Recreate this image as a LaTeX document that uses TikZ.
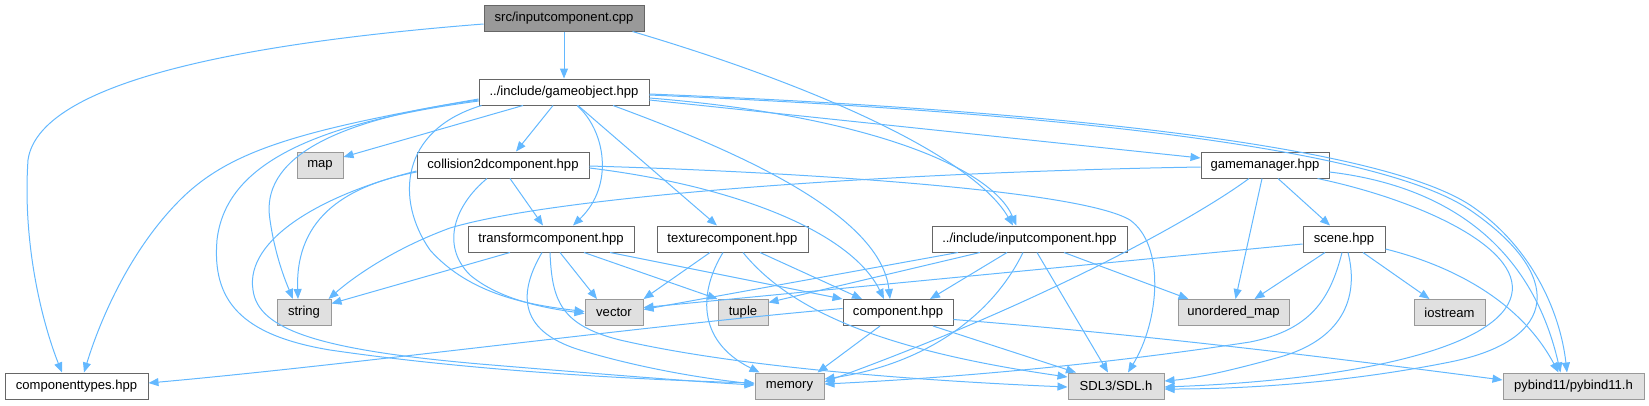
\documentclass[tikz,border=0pt]{standalone}
\usepackage{fontspec}
\setmainfont{Liberation Sans}
\usetikzlibrary{arrows.meta,calc}
\definecolor{cEdge}{HTML}{63B8FF}
\definecolor{cDark}{HTML}{666666}
\definecolor{cMid}{HTML}{999999}
\definecolor{cSys}{HTML}{E0E0E0}
\tikzset{
  base/.style={draw=cDark, line width=0.75pt, inner sep=0pt, minimum height=19.5pt,
    font=\fontsize{9.8}{11}\selectfont},
  usr/.style={base, fill=white},
  sys/.style={base, draw=cMid, fill=cSys},
  root/.style={base, fill=cMid},
  edge/.style={draw=cEdge, line width=0.75pt, -{Triangle[length=7.5pt,width=6pt]}}
}
\begin{document}
\begin{tikzpicture}[x=0.75pt,y=-0.75pt]
\useasboundingbox (0,0) rectangle (1649,405);
% nodes
\node[root, minimum width=120pt] (C) at (564,18) {src/inputcomponent.cpp};
\node[usr, minimum width=127.5pt] (G) at (564,92) {../include/gameobject.hpp};
\node[sys, minimum width=34.5pt] (MAP) at (320,165) {map};
\node[usr, minimum width=129pt] (COL) at (503,165) {collision2dcomponent.hpp};
\node[usr, minimum width=96pt] (GM) at (1265,165) {gamemanager.hpp};
\node[usr, minimum width=124.5pt] (TR) at (551,239) {transformcomponent.hpp};
\node[usr, minimum width=113.25pt] (TX) at (732.5,239) {texturecomponent.hpp};
\node[usr, minimum width=146.25pt] (IC) at (1029.5,239) {../include/inputcomponent.hpp};
\node[usr, minimum width=61.5pt] (SC) at (1344,239) {scene.hpp};
\node[sys, minimum width=40.5pt] (ST) at (304,312.5) {string};
\node[sys, minimum width=43.5pt] (VE) at (614,312.5) {vector};
\node[sys, minimum width=37.5pt] (TU) at (743,312.5) {tuple};
\node[usr, minimum width=82.5pt] (CO) at (898,312.5) {component.hpp};
\node[sys, minimum width=83.25pt] (UM) at (1233.5,312.5) {unordered\_map};
\node[sys, minimum width=53.25pt] (IO) at (1449.5,312.5) {iostream};
\node[usr, minimum width=107.25pt] (CT) at (76.5,386) {componenttypes.hpp};
\node[sys, minimum width=51.75pt] (ME) at (789.5,386) {memory};
\node[sys, minimum width=72pt] (SDL) at (1116,386) {SDL3/SDL.h};
\node[sys, minimum width=105.75pt] (PY) at (1573.5,386) {pybind11/pybind11.h};
% edges from cpp
\draw[edge] (C) -- (G);
\draw[edge] ($(C.west)+(0,6)$) .. controls (280,40) and (40,75) .. (28,160) .. controls (22,250) and (45,330) .. ($(CT.north)+(-14.5,0)$);
\draw[edge] ($(C.south east)+(-12,0)$) .. controls (830,90) and (975,160) .. ($(IC.north)+(-16.5,0)$);
% gameobject
\draw[edge] ($(G.south)+(-41,0)$) -- ($(MAP.east)+(0,-8)$);
\draw[edge] ($(G.south)+(-11,0)$) -- ($(COL.north)+(13,0)$);
\draw[edge] ($(G.south)+(13,0)$) .. controls (605,130) and (615,185) .. ($(TR.north)+(22,0)$);
\draw[edge] ($(G.south)+(14,0)$) -- ($(TX.north)+(-15.5,0)$);
\draw[edge] ($(G.south)+(49,0)$) .. controls (720,145) and (880,210) .. ($(CO.north)+(-8,0)$);
\draw[edge] ($(G.east)+(0,8)$) -- ($(GM.west)+(0,-7)$);
\draw[edge] ($(G.east)+(0,6)$) .. controls (860,115) and (990,165) .. ($(IC.north)+(-13,0)$);
\draw[edge] ($(G.east)+(0,2)$) .. controls (1000,108) and (1370,140) .. (1470,205) .. controls (1530,245) and (1560,310) .. ($(PY.north)+(-6.5,0)$);
\draw[edge] ($(G.east)+(0,3)$) .. controls (1000,110) and (1370,142) .. (1470,210) .. controls (1565,275) and (1560,340) .. (1450,362) .. controls (1350,382) and (1250,389) .. ($(SDL.east)+(0,3)$);
\draw[edge] ($(G.west)+(0,9)$) .. controls (300,125) and (225,170) .. (217,240) .. controls (212,300) and (240,335) .. (330,350) .. controls (480,372) and (650,380) .. ($(ME.west)+(0,-3)$);
\draw[edge] ($(G.west)+(0,8)$) .. controls (330,120) and (260,160) .. (270,220) .. controls (275,255) and (285,280) .. ($(ST.north)+(-11,0)$);
\draw[edge] ($(G.south west)+(3,0)$) .. controls (400,130) and (395,200) .. (430,250) .. controls (470,295) and (530,305) .. ($(VE.west)+(0,-1)$);
\draw[edge] ($(G.west)+(0,7)$) .. controls (300,130) and (230,150) .. (180,200) .. controls (130,250) and (100,320) .. ($(CT.north)+(7.5,0)$);
% collision2d
\draw[edge] ($(COL.south)+(7,0)$) -- ($(TR.north)+(-8,0)$);
\draw[edge] ($(COL.west)+(0,7)$) .. controls (350,185) and (295,215) .. ($(ST.north)+(-6,0)$);
\draw[edge] ($(COL.west)+(0,6)$) .. controls (320,195) and (245,240) .. (253,290) .. controls (258,330) and (320,350) .. (480,364) .. controls (600,374) and (700,382) .. ($(ME.west)+(0,-1)$);
\draw[edge] ($(COL.south)+(-16,0)$) .. controls (455,205) and (440,245) .. (470,275) .. controls (500,300) and (545,308) .. ($(VE.west)+(0,1)$);
\draw[edge] ($(COL.east)+(0,3)$) .. controls (730,185) and (850,230) .. ($(CO.north)+(-14,0)$);
\draw[edge] ($(COL.east)+(0,1)$) .. controls (800,172) and (1080,190) .. (1130,220) .. controls (1165,245) and (1160,320) .. ($(SDL.north)+(12,0)$);
% transformcomponent
\draw[edge] ($(TR.south)+(-41,0)$) -- ($(ST.east)+(0,-9)$);
\draw[edge] ($(TR.south)+(9,0)$) -- ($(VE.north)+(-17,0)$);
\draw[edge] ($(TR.south)+(33,0)$) -- (TU.north west);
\draw[edge] ($(TR.south)+(59,0)$) -- (CO.north west);
\draw[edge] ($(TR.south)+(-9,0)$) .. controls (520,290) and (515,330) .. (580,350) .. controls (640,368) and (700,378) .. ($(ME.west)+(0,-2)$);
\draw[edge] ($(TR.south)+(-1,0)$) .. controls (552,300) and (560,325) .. (620,340) .. controls (750,370) and (950,382) .. ($(SDL.west)+(0,1)$);
% texturecomponent
\draw[edge] ($(TX.south)+(-22.5,0)$) -- (VE.north east);
\draw[edge] ($(TX.south)+(27.5,0)$) -- ($(CO.north)+(-36,0)$);
\draw[edge] ($(TX.south)+(-9.5,0)$) .. controls (700,290) and (695,340) .. ($(ME.north)+(-30,0)$);
\draw[edge] ($(TX.south)+(10.5,0)$) .. controls (790,310) and (880,350) .. ($(SDL.west)+(0,-9)$);
% component
\draw[edge] ($(CO.west)+(0,-4)$) .. controls (650,325) and (350,365) .. ($(CT.east)+(0,-3)$);
\draw[edge] ($(CO.south)+(-18,0)$) -- ($(ME.north)+(28,0)$);
\draw[edge] ($(CO.south)+(35,0)$) -- ($(SDL.north)+(-40,0)$);
\draw[edge] ($(CO.east)+(0,7)$) .. controls (1150,335) and (1350,360) .. ($(PY.west)+(0,-6)$);
% inputcomponent
\draw[edge] ($(IC.south)+(-71.5,0)$) -- ($(VE.east)+(0,-3)$);
\draw[edge] ($(IC.south)+(-49.5,0)$) -- ($(TU.east)+(0,-10)$);
\draw[edge] ($(IC.south)+(-22.5,0)$) -- ($(CO.north)+(32,0)$);
\draw[edge] ($(IC.south)+(-6.5,0)$) .. controls (990,320) and (920,365) .. ($(ME.east)+(0,-7)$);
\draw[edge] ($(IC.south)+(7.5,0)$) -- ($(SDL.north)+(-8,0)$);
\draw[edge] ($(IC.south)+(34.5,0)$) -- ($(UM.north)+(-45,0)$);
% gamemanager
\draw[edge] ($(GM.west)+(0,2)$) .. controls (900,172) and (560,195) .. (450,228) .. controls (390,250) and (350,280) .. ($(ST.north east)+(-3,0)$);
\draw[edge] ($(GM.south)+(-16,0)$) .. controls (1200,215) and (1050,300) .. ($(ME.east)+(0,-4)$);
\draw[edge] ($(GM.south)+(-3,0)$) -- ($(UM.north)+(2,0)$);
\draw[edge] ($(GM.south)+(13,0)$) -- ($(SC.north)+(-14,0)$);
\draw[edge] ($(GM.south east)+(-12,0)$) .. controls (1420,200) and (1530,250) .. (1510,300) .. controls (1490,350) and (1350,380) .. ($(SDL.east)+(0,1)$);
\draw[edge] ($(GM.east)+(0,7)$) .. controls (1440,185) and (1530,240) .. ($(PY.north)+(-13,0)$);
% scene
\draw[edge] ($(SC.west)+(0,5)$) -- ($(VE.east)+(0,-5)$);
\draw[edge] ($(SC.south)+(-19,0)$) -- ($(UM.north)+(21,0)$);
\draw[edge] ($(SC.south)+(19,0)$) -- ($(IO.north)+(-20,0)$);
\draw[edge] ($(SC.east)+(0,10)$) .. controls (1450,265) and (1520,300) .. ($(PY.north)+(-15,0)$);
\draw[edge] ($(SC.south)+(4,0)$) .. controls (1360,300) and (1340,340) .. (1280,357) .. controls (1240,368) and (1200,378) .. ($(SDL.east)+(0,-5)$);
\draw[edge] ($(SC.south)+(-2,0)$) .. controls (1330,300) and (1310,330) .. (1250,342) .. controls (1100,365) and (950,378) .. ($(ME.east)+(0,-2)$);
\end{tikzpicture}
\end{document}
